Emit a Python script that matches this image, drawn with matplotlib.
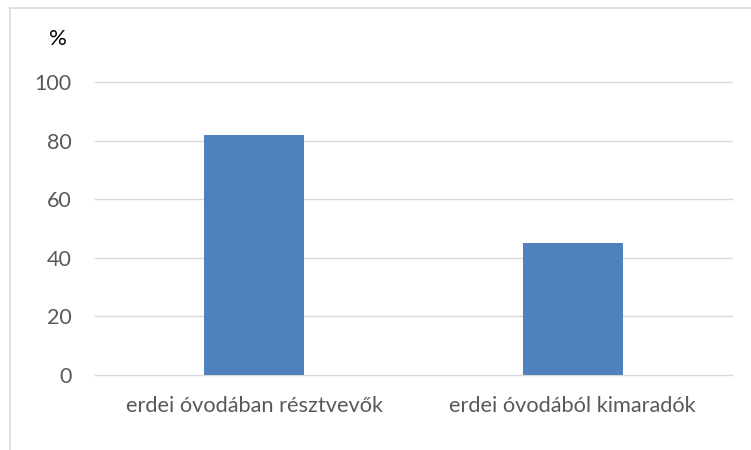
import matplotlib
matplotlib.use("Agg")
import matplotlib.pyplot as plt
from matplotlib.lines import Line2D

categories = ["erdei óvodában résztvevők", "erdei óvodából kimaradók"]
values = [82, 45]
yticks = [0, 20, 40, 60, 80, 100]

plt.rcParams['font.family'] = ['Lato', 'DejaVu Sans']

W, H = 751, 450
fig = plt.figure(figsize=(W / 100, H / 100), dpi=100)
ax = fig.add_axes([95 / W, 1 - 375 / H, (732 - 95) / W, (375 - 82) / H])

x = list(range(len(categories)))
ax.bar(x, values, width=0.314, color="#4F81BD", zorder=3)
ax.set_xlim(-0.5, len(categories) - 0.5)
ax.set_ylim(0, 100)
ax.set_yticks(yticks)
ax.set_xticks(x)
ax.set_xticklabels(categories)
ax.tick_params(axis="both", length=0, colors="#595959")
ax.tick_params(axis="y", pad=17, labelsize=15.5)
ax.tick_params(axis="x", pad=15, labelsize=15.7)
ax.grid(axis="y", color="#D9D9D9", linewidth=1.0, zorder=0)
for gl in ax.get_ygridlines():
    gl.set_clip_on(False)
for s in ax.spines.values():
    s.set_visible(False)

fig.text(58 / W, 1 - 39 / H, "%", ha="center", va="center", fontsize=16, color="#000000")

# chart border (top and left visible)
fig.add_artist(Line2D([9.5 / W, 1.0], [1 - 7.5 / H, 1 - 7.5 / H], transform=fig.transFigure, color="#D9D9D9", linewidth=1.2))
fig.add_artist(Line2D([9.5 / W, 9.5 / W], [0, 1 - 7.5 / H], transform=fig.transFigure, color="#D9D9D9", linewidth=1.2))

fig.savefig("out.png", dpi=100)
